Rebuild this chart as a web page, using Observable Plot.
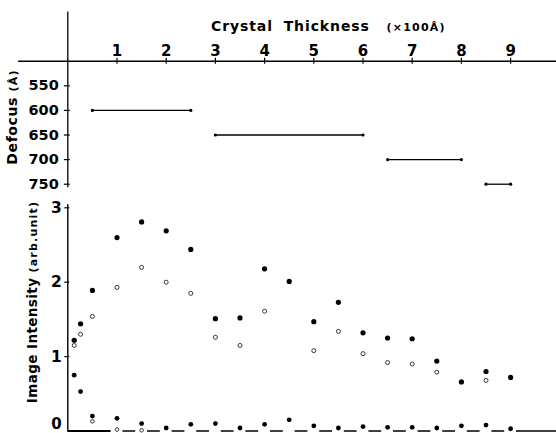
<!DOCTYPE html>
<html>
<head>
<meta charset="utf-8">
<script src="https://cdn.jsdelivr.net/npm/d3@7"></script>
<script src="https://cdn.jsdelivr.net/npm/@observablehq/plot@0.6"></script>
<style>
  html, body { margin: 0; padding: 0; background: #fff; }
  #chart { position: relative; width: 556px; height: 433px; overflow: hidden; font-family: "DejaVu Sans", sans-serif; color: #000; }
  #chart svg { position: absolute; left: 0; top: 0; }
  .lbl { position: absolute; white-space: nowrap; font-weight: bold; line-height: 1; }
  .small { font-size: 11px; letter-spacing: 1.2px; }
</style>
</head>
<body>
<div id="chart">
  <div class="lbl" style="left:211px; top:19px; font-size:14px; letter-spacing:0.9px; word-spacing:5px;">Crystal Thickness <span class="small" style="margin-left:6px; word-spacing:0;">(×100Å)</span></div>
  <div class="lbl" style="left:12px; top:117px; font-size:14px; letter-spacing:0.6px; transform: translate(-50%,-50%) rotate(-90deg);">Defocus <span class="small">(Å)</span></div>
  <div class="lbl" style="left:33px; top:302px; font-size:13.5px; letter-spacing:0.4px; transform: translate(-50%,-50%) rotate(-90deg);">Image Intensity <span class="small">(arb.unit)</span></div>
</div>
<script>
// ---- data ----
const thicknessTicks = [1, 2, 3, 4, 5, 6, 7, 8, 9];
const defocusTicks = [550, 600, 650, 700, 750];
const intensityTicks = [0, 1, 2, 3];

const defocusValues = [600, 650, 700, 750];
const rangeStart = [0.5, 3.0, 6.5, 8.5];
const rangeEnd = [2.5, 6.0, 8.0, 9.0];

const thickness = [0.13, 0.26, 0.5, 1.0, 1.5, 2.0, 2.5, 3.0, 3.5, 4.0, 4.5, 5.0, 5.5, 6.0, 6.5, 7.0, 7.5, 8.0, 8.5, 9.0];
const intensityUpper = [1.22, 1.44, 1.89, 2.60, 2.81, 2.69, 2.44, 1.51, 1.52, 2.18, 2.01, 1.47, 1.73, 1.32, 1.25, 1.24, 0.94, 0.66, 0.80, 0.72];
const intensityOpen = [1.15, 1.30, 1.54, 1.93, 2.20, 2.00, 1.85, 1.26, 1.15, 1.61, null, 1.08, 1.34, 1.04, 0.92, 0.90, 0.79, null, 0.68, null];
const intensityLower = [0.75, 0.53, 0.20, 0.17, 0.10, 0.04, 0.09, 0.10, 0.04, 0.09, 0.15, 0.07, 0.04, 0.06, 0.05, 0.05, 0.04, 0.07, 0.08, 0.03];
const intensityLowerOpen = [null, null, 0.13, 0.02, 0.01, null, null, null, null, null, null, null, null, null, null, null, null, null, null, null];

// ---- derived tables ----
const segments = defocusValues.map((d, i) => ({defocus: d, start: rangeStart[i], end: rangeEnd[i]}));
const endpoints = segments.flatMap(s => [{x: s.start, y: s.defocus}, {x: s.end, y: s.defocus}]);
const rows = thickness.map((t, i) => ({t, up: intensityUpper[i], op: intensityOpen[i], lo: intensityLower[i], lop: intensityLowerOpen[i]}));
const gap = 0.12;
const dashes = thickness.slice(3, -1).map((t, i) => ({x1: t + gap, x2: thickness[i + 4] - gap}));

const W = 556, H = 433;
const X0 = 67.3;               // pixel position of thickness 0
const xDomain = [0, (W - X0) / 49.2];
const font = {fontFamily: "DejaVu Sans, sans-serif", fontWeight: "bold", background: "transparent", overflow: "visible"};

const topPanel = Plot.plot({
  width: W, height: H,
  marginLeft: X0, marginRight: 0, marginTop: 60.7, marginBottom: H - 183.7,
  x: {domain: xDomain},
  y: {domain: [500, 750], reverse: true},
  style: {...font, fontSize: "14px"},
  marks: [
    Plot.ruleX([0], {y1: 400, y2: 757, strokeWidth: 1.3}),
    Plot.ruleY([500], {x1: -1.0, x2: xDomain[1], strokeWidth: 1.4}),
    Plot.ruleX(thicknessTicks, {x: d => d, y1: 494, y2: 506, strokeWidth: 1.2}),
    Plot.ruleY(defocusTicks, {y: d => d, x1: -0.07, x2: 0.05, strokeWidth: 1.2}),
    Plot.axisX({ticks: thicknessTicks, anchor: "top", tickSize: 0, tickPadding: 5, label: null, fontSize: 15, tickFormat: d => d}),
    Plot.axisY({ticks: defocusTicks, anchor: "left", tickSize: 0, tickPadding: 9, label: null, fontSize: 14.5, tickFormat: d => d}),
    Plot.ruleY(segments, {y: "defocus", x1: "start", x2: "end", strokeWidth: 1.3}),
    Plot.dot(endpoints, {x: "x", y: "y", r: 1.6, fill: "black"})
  ]
});

const bottomPanel = Plot.plot({
  width: W, height: H,
  marginLeft: X0, marginRight: 0, marginTop: 207.3, marginBottom: H - 430.5,
  x: {domain: xDomain, axis: null},
  y: {domain: [0, 3]},
  style: {...font, fontSize: "15px"},
  marks: [
    Plot.ruleX([0], {y1: 0, y2: 3.04, strokeWidth: 1.4}),
    Plot.ruleY(intensityTicks.slice(1), {y: d => d, x1: -0.06, x2: 0.04, strokeWidth: 1.2}),
    Plot.ruleY([0], {x1: 0, x2: 0.88, strokeWidth: 1.8}),
    Plot.ruleY(dashes, {y: 0, x1: "x1", x2: "x2", strokeWidth: 1.5}),
    Plot.ruleY([0], {x1: thickness[thickness.length - 1] + gap, x2: xDomain[1], strokeWidth: 1.5}),
    Plot.axisY({ticks: intensityTicks.slice(1), anchor: "left", tickSize: 0, tickPadding: 6, label: null, fontSize: 15.5, tickFormat: d => d}),
    Plot.axisY({ticks: intensityTicks.slice(0, 1), anchor: "left", tickSize: 0, tickPadding: 6, label: null, fontSize: 15, tickFormat: d => d, dy: -7}),
    Plot.dot(rows, {x: "t", y: "op", r: 2, stroke: "#222", strokeWidth: 0.9, fill: "white"}),
    Plot.dot(rows, {x: "t", y: "lop", r: 1.8, stroke: "#222", strokeWidth: 0.9, fill: "white"}),
    Plot.dot(rows, {x: "t", y: "up", r: 2.6, fill: "black"}),
    Plot.dot(rows, {x: "t", y: "lo", r: 2.4, fill: "black"})
  ]
});

const chart = document.getElementById("chart");
chart.appendChild(topPanel);
chart.appendChild(bottomPanel);
</script>
</body>
</html>
